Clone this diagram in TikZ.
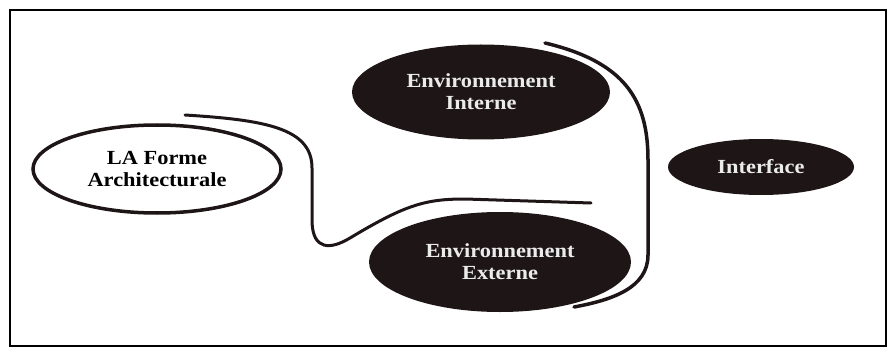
\documentclass[tikz,border=0pt]{standalone}
\usepackage{fontspec}
\setmainfont{Liberation Serif}[FakeStretch=1.12]
\usetikzlibrary{shapes.geometric}
\definecolor{ink}{HTML}{1E1517}
\begin{document}
\begin{tikzpicture}[x=1pt,y=-1pt,
 every node/.style={font=\fontsize{20}{22}\selectfont\bfseries,align=center},
 darkblob/.style={ellipse,fill=ink,text=white!92!black,inner sep=0pt},
 lightblob/.style={ellipse,draw=ink,line width=3.5pt,inner sep=0pt},
 stroke/.style={draw=ink,line width=3pt,line cap=round}]
\useasboundingbox (0,0) rectangle (891,350);
\draw[line width=1.3pt] (10,10) rectangle (886,346);
\node[lightblob,minimum width=248pt,minimum height=88pt] (forme) at (157,169) {LA Forme\\Architecturale};
\node[darkblob,minimum width=258pt,minimum height=95pt] (interne) at (481,92) {Environnement\\Interne};
\node[darkblob,minimum width=262pt,minimum height=100pt] (externe) at (500,262) {Environnement\\Externe};
\node[darkblob,minimum width=186pt,minimum height=56pt] (interface) at (761,167) {Interface};
\draw[stroke] (185,115) .. controls (265,120) and (312,128) .. (312,168) -- (312,222)
 .. controls (313,250) and (330,250) .. (350,238) .. controls (405,205) and (425,199) .. (465,199) -- (591,203);
\draw[stroke,line width=3.5pt] (545,43) .. controls (625,62) and (648,100) .. (648,160) -- (648,255)
 .. controls (648,288) and (612,300) .. (574,307);
\end{tikzpicture}
\end{document}
